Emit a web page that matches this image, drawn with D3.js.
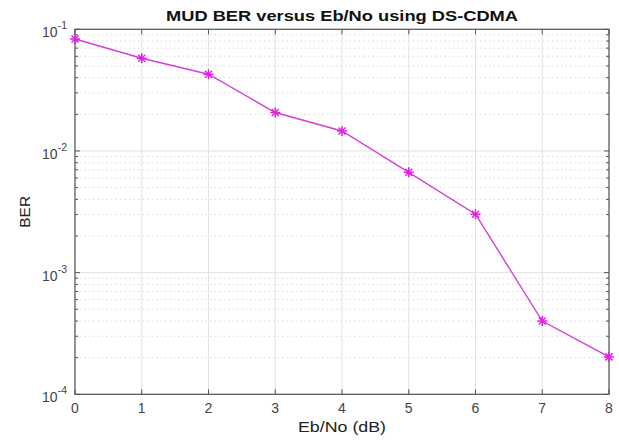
<!DOCTYPE html>
<html>
<head>
<meta charset="utf-8">
<script src="https://cdn.jsdelivr.net/npm/d3@7"></script>
<style>
body{margin:0;background:#fff;}
text{font-family:"Liberation Sans",Arial,sans-serif;}
</style>
</head>
<body>
<div id="chart"></div>
<script>
var ebno = [0,1,2,3,4,5,6,7,8];
var ber = [0.0832,0.0578,0.0427,0.0207,0.0146,0.00668,0.00302,0.0004,0.000203];
var xTicks = [0,1,2,3,4,5,6,7,8];
var yDecades = [-4,-3,-2,-1];

var width = 619, height = 441;
var margin = {top:29.3,left:75,right:10,bottom:46.7};
var w = width - margin.left - margin.right;
var h = height - margin.top - margin.bottom;

var svg = d3.select("#chart").append("svg")
    .attr("width",width)
    .attr("height",height);
var g = svg.append("g")
    .attr("transform","translate("+margin.left+","+margin.top+")");

var x = d3.scaleLinear().domain([0,8]).range([0,w]);
var y = d3.scaleLog().domain([1e-4,1e-1]).range([h,0]);

// minor values (2..9 per decade)
var minors = [];
for (var e = -4; e < -1; e++) {
    for (var m = 2; m <= 9; m++) minors.push(m*Math.pow(10,e));
}

// grid
g.append("g").selectAll("line").data(minors).enter().append("line")
    .attr("x1",0).attr("x2",w)
    .attr("y1",d => y(d)).attr("y2",d => y(d))
    .attr("stroke","#d8d8d8").attr("stroke-dasharray","1.5,3");
g.append("g").selectAll("line").data(yDecades).enter().append("line")
    .attr("x1",0).attr("x2",w)
    .attr("y1",d => y(Math.pow(10,d))).attr("y2",d => y(Math.pow(10,d)))
    .attr("stroke","#e2e2e2");
g.append("g").selectAll("line").data(xTicks).enter().append("line")
    .attr("x1",d => x(d)).attr("x2",d => x(d))
    .attr("y1",0).attr("y2",h)
    .attr("stroke","#e2e2e2");

// box
g.append("rect").attr("width",w).attr("height",h)
    .attr("fill","none").attr("stroke","#555").attr("stroke-width",1.2);

// ticks inward
var tk = g.append("g").attr("stroke","#555");
xTicks.forEach(function(d){
    tk.append("line").attr("x1",x(d)).attr("x2",x(d)).attr("y1",h).attr("y2",h-5);
    tk.append("line").attr("x1",x(d)).attr("x2",x(d)).attr("y1",0).attr("y2",5);
});
yDecades.forEach(function(d){
    var yy = y(Math.pow(10,d));
    tk.append("line").attr("x1",0).attr("x2",5).attr("y1",yy).attr("y2",yy);
    tk.append("line").attr("x1",w).attr("x2",w-5).attr("y1",yy).attr("y2",yy);
});
minors.forEach(function(d){
    tk.append("line").attr("x1",0).attr("x2",3).attr("y1",y(d)).attr("y2",y(d));
    tk.append("line").attr("x1",w).attr("x2",w-3).attr("y1",y(d)).attr("y2",y(d));
});

// tick labels
g.append("g").selectAll("text").data(xTicks).enter().append("text")
    .attr("x",d => x(d)).attr("y",h+18.5)
    .attr("text-anchor","middle")
    .attr("font-size",14).attr("fill","#444")
    .text(d => d);
var yl = g.append("g").selectAll("text").data(yDecades).enter().append("text")
    .attr("x",-8).attr("y",d => y(Math.pow(10,d))+8)
    .attr("text-anchor","end")
    .attr("font-size",14).attr("fill","#444");
yl.append("tspan").text("10");
yl.append("tspan").attr("dy",-8).attr("font-size",10.5).text(d => d);

// axis labels & title
svg.append("text")
    .attr("x",margin.left+w/2).attr("y",432)
    .attr("text-anchor","middle").attr("font-size",15.5).attr("fill","#222")
    .attr("textLength",88).attr("lengthAdjust","spacingAndGlyphs")
    .text("Eb/No (dB)");
svg.append("text")
    .attr("transform","translate(30,"+(margin.top+h/2)+") rotate(-90)")
    .attr("text-anchor","middle").attr("font-size",15.5).attr("fill","#222")
    .text("BER");
svg.append("text")
    .attr("x",margin.left+w/2).attr("y",20.5)
    .attr("text-anchor","middle").attr("font-size",15.5).attr("font-weight","bold").attr("fill","#111")
    .attr("textLength",352).attr("lengthAdjust","spacingAndGlyphs")
    .text("MUD BER versus Eb/No using DS-CDMA");

// line
var pts = ebno.map((d,i) => [d, ber[i]]);
g.append("path").datum(pts)
    .attr("fill","none").attr("stroke","#d040d4").attr("stroke-width",1.4)
    .attr("d", d3.line().x(d => x(d[0])).y(d => y(d[1])));

// asterisk markers
var r = 5;
var mk = g.append("g").selectAll("g").data(pts).enter().append("g")
    .attr("transform",d => "translate("+x(d[0])+","+y(d[1])+")")
    .attr("stroke","#e020e0").attr("stroke-width",1.5);
[[r,0],[0,r],[r*0.7,r*0.7],[r*0.7,-r*0.7]].forEach(function(v){
    mk.append("line").attr("x1",-v[0]).attr("y1",-v[1]).attr("x2",v[0]).attr("y2",v[1]);
});
</script>
</body>
</html>
